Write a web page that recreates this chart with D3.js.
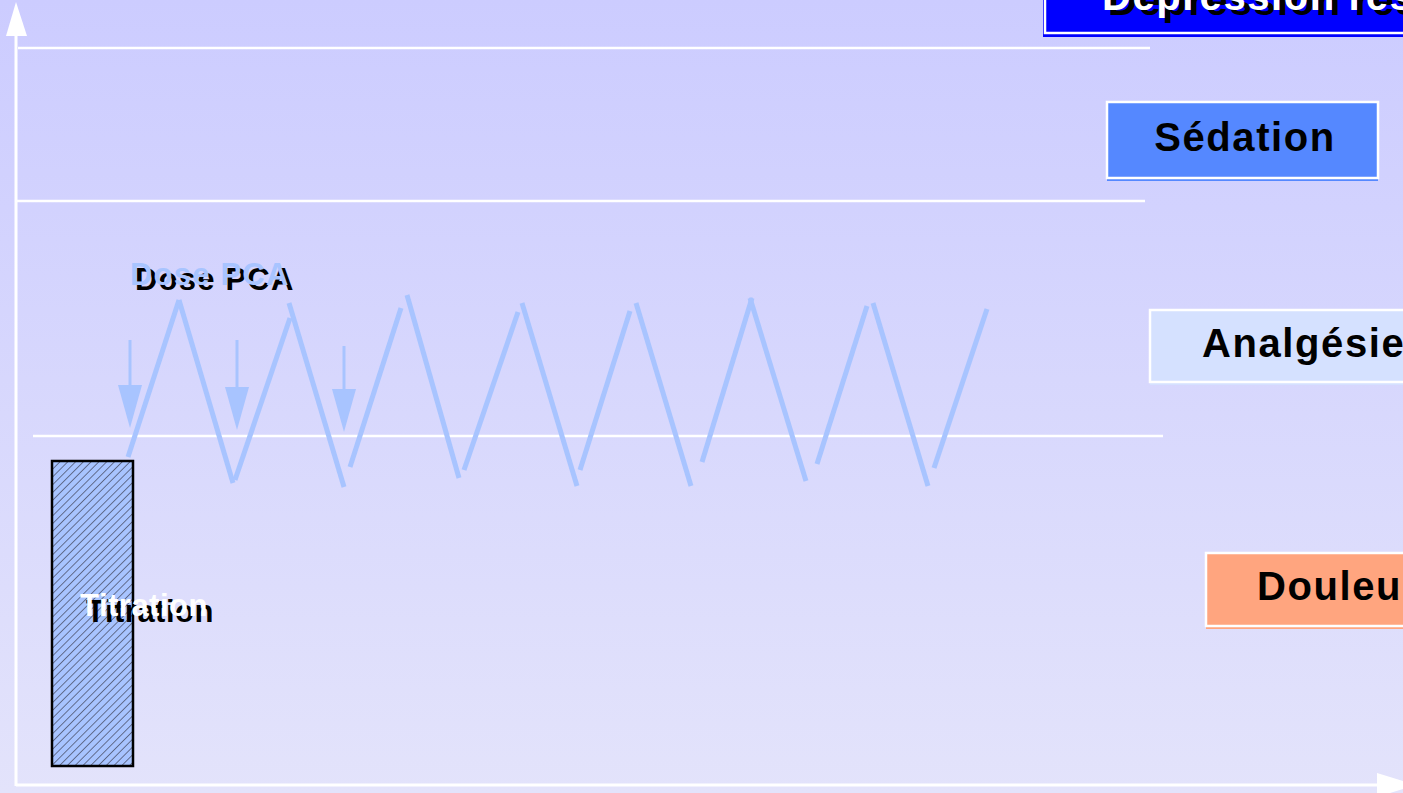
<!DOCTYPE html>
<html>
<head>
<meta charset="utf-8">
<script src="https://cdn.jsdelivr.net/npm/d3@7"></script>
<style>
  html, body { margin: 0; padding: 0; overflow: hidden; }
  svg { display: block; font-family: Arial, "Liberation Sans", sans-serif; font-weight: bold; }
</style>
</head>
<body>
<div id="chart"></div>
<script>
// Data: time (t) from axis origin, level (l) above baseline
const levelNames = ["Dépression respiratoire", "Sédation", "Analgésie", "Douleur"];
const levelFills = ["#0000ff", "#5588ff", "#d5e1ff", "#ffa57f"];
const levelTextColors = ["#ffffff", "#000000", "#000000", "#000000"];

// threshold lines: [level, tStart, tEnd]
const thresholds = [
    [737, 2, 1134],
    [584, -1, 1129],
    [349, 17, 1147]
];

// PCA oscillation segments: [t1, l1, t2, l2]
const pcaSegments = [
    [112, 328, 163, 485],
    [163, 485, 217, 302],
    [219, 305, 274, 467],
    [273, 482, 328, 298],
    [334, 318, 385, 477],
    [391, 490, 443, 307],
    [448, 315, 502, 473],
    [506, 482, 561, 299],
    [564, 315, 614, 474],
    [620, 482, 675, 299],
    [686, 323, 736, 487],
    [734, 487, 790, 304],
    [801, 321, 851, 479],
    [857, 482, 912, 299],
    [918, 317, 971, 476]
];

// PCA doses: [time, top level, tip level]
const pcaDoses = [
    [114, 445, 357],
    [221, 445, 355],
    [328, 439, 353]
];

// Titration bolus: time span and level span
const titration = { t0: 36, t1: 117, l0: 19, l1: 324 };

// Dimensions
const width = 1403;
const height = 793;

const x = d3.scaleLinear().domain([0, 1387]).range([16, 1403]);
const y = d3.scaleLinear().domain([0, 785]).range([785, 0]);

const svg = d3.select("#chart").append("svg")
    .attr("width", width)
    .attr("height", height);

// Background gradient
const defs = svg.append("defs");
const grad = defs.append("linearGradient")
    .attr("id", "bg")
    .attr("x1", 0).attr("y1", 0).attr("x2", 0).attr("y2", 1);
grad.append("stop").attr("offset", "0%").attr("stop-color", "#ccccff");
grad.append("stop").attr("offset", "100%").attr("stop-color", "#e3e3fb");

const hatch = defs.append("pattern")
    .attr("id", "hatch")
    .attr("patternUnits", "userSpaceOnUse")
    .attr("width", 5.5).attr("height", 5.5)
    .attr("patternTransform", "rotate(45)");
hatch.append("rect").attr("width", 5.5).attr("height", 5.5).attr("fill", "#a8c4ff");
hatch.append("line")
    .attr("x1", 0).attr("y1", 0).attr("x2", 0).attr("y2", 5.5)
    .attr("stroke", "#333344").attr("stroke-width", 1.2);

svg.append("rect")
    .attr("width", width).attr("height", height)
    .attr("fill", "url(#bg)");

// Threshold lines
svg.selectAll(".threshold")
    .data(thresholds)
    .enter().append("line")
    .attr("class", "threshold")
    .attr("x1", d => x(d[1]))
    .attr("x2", d => x(d[2]))
    .attr("y1", d => y(d[0]))
    .attr("y2", d => y(d[0]))
    .attr("stroke", "#ffffff")
    .attr("stroke-width", 2.5);

// Axes
svg.append("line")
    .attr("x1", x(0)).attr("y1", y(-1))
    .attr("x2", x(0)).attr("y2", y(752))
    .attr("stroke", "#ffffff").attr("stroke-width", 3);
svg.append("path")
    .attr("d", `M${x(0)},${y(783)} L${x(-10)},${y(749)} L${x(11)},${y(749)} Z`)
    .attr("fill", "#ffffff");

svg.append("line")
    .attr("x1", x(0)).attr("y1", y(0))
    .attr("x2", x(1364)).attr("y2", y(0))
    .attr("stroke", "#ffffff").attr("stroke-width", 3);
svg.append("path")
    .attr("d", `M${x(1400)},${y(0)} L${x(1361)},${y(12)} L${x(1361)},${y(-12)} Z`)
    .attr("fill", "#ffffff");

// Titration bar
svg.append("rect")
    .attr("x", x(titration.t0))
    .attr("y", y(titration.l1))
    .attr("width", x(titration.t1) - x(titration.t0))
    .attr("height", y(titration.l0) - y(titration.l1))
    .attr("fill", "url(#hatch)")
    .attr("stroke", "#000000")
    .attr("stroke-width", 2.5);

// PCA oscillation
svg.selectAll(".pca")
    .data(pcaSegments)
    .enter().append("line")
    .attr("class", "pca")
    .attr("x1", d => x(d[0]))
    .attr("y1", d => y(d[1]))
    .attr("x2", d => x(d[2]))
    .attr("y2", d => y(d[3]))
    .attr("stroke", "#a8c4ff")
    .attr("stroke-width", 5);

// PCA dose arrows
const doses = svg.selectAll(".dose")
    .data(pcaDoses)
    .enter().append("g")
    .attr("class", "dose");
doses.append("line")
    .attr("x1", d => x(d[0])).attr("x2", d => x(d[0]))
    .attr("y1", d => y(d[1])).attr("y2", d => y(d[2]) - 40)
    .attr("stroke", "#a8c4ff").attr("stroke-width", 3);
doses.append("path")
    .attr("d", d => {
        const cx = x(d[0]), tip = y(d[2]);
        return `M${cx},${tip} L${cx - 12},${tip - 43} L${cx + 12},${tip - 43} Z`;
    })
    .attr("fill", "#a8c4ff");

// Labels with shadow
function shadowText(tx, ty, text, size, spacing, fg, shadow, dx, dy) {
    const g = svg.append("g")
        .style("font-size", size + "px")
        .style("letter-spacing", spacing + "px");
    g.append("text").attr("x", tx + dx).attr("y", ty + dy).attr("fill", shadow).text(text);
    g.append("text").attr("x", tx).attr("y", ty).attr("fill", fg).text(text);
}
shadowText(130, 285, "Dose PCA", 31, 1.2, "#a8c4ff", "#000000", 5, 5);
shadowText(80, 616, "Titration", 31, 0.5, "#ffffff", "#000000", 6, 6);

// Level boxes
const boxes = [
    { x: 1045, y: -40, w: 420, h: 73, sx: -2, sy: 4, tx: 1102, ty: 10 },
    { x: 1107, y: 102, w: 271, h: 76, sx: 0, sy: 3, tx: 1245, ty: 151, anchor: "middle" },
    { x: 1150, y: 310, w: 300, h: 72, sx: 0, sy: 3, tx: 1202, ty: 357 },
    { x: 1206, y: 553, w: 260, h: 73, sx: 0, sy: 3, tx: 1257, ty: 600 }
];
boxes.forEach((b, i) => {
    const g = svg.append("g");
    g.append("rect")
        .attr("x", b.x + b.sx).attr("y", b.y + b.sy)
        .attr("width", b.w).attr("height", b.h)
        .attr("fill", levelFills[i]);
    g.append("rect")
        .attr("x", b.x).attr("y", b.y)
        .attr("width", b.w).attr("height", b.h)
        .attr("fill", levelFills[i])
        .attr("stroke", "#ffffff").attr("stroke-width", 2.5);
    const txt = g.append("g")
        .style("font-size", "40px")
        .style("letter-spacing", "1.6px");
    if (i === 0) {
        txt.append("text")
            .attr("x", b.tx + 6).attr("y", b.ty + 5)
            .attr("fill", "#000000")
            .text(levelNames[i]);
    }
    txt.append("text")
        .attr("x", b.tx).attr("y", b.ty)
        .attr("fill", levelTextColors[i])
        .attr("text-anchor", b.anchor || "start")
        .text(levelNames[i]);
});
</script>
</body>
</html>
